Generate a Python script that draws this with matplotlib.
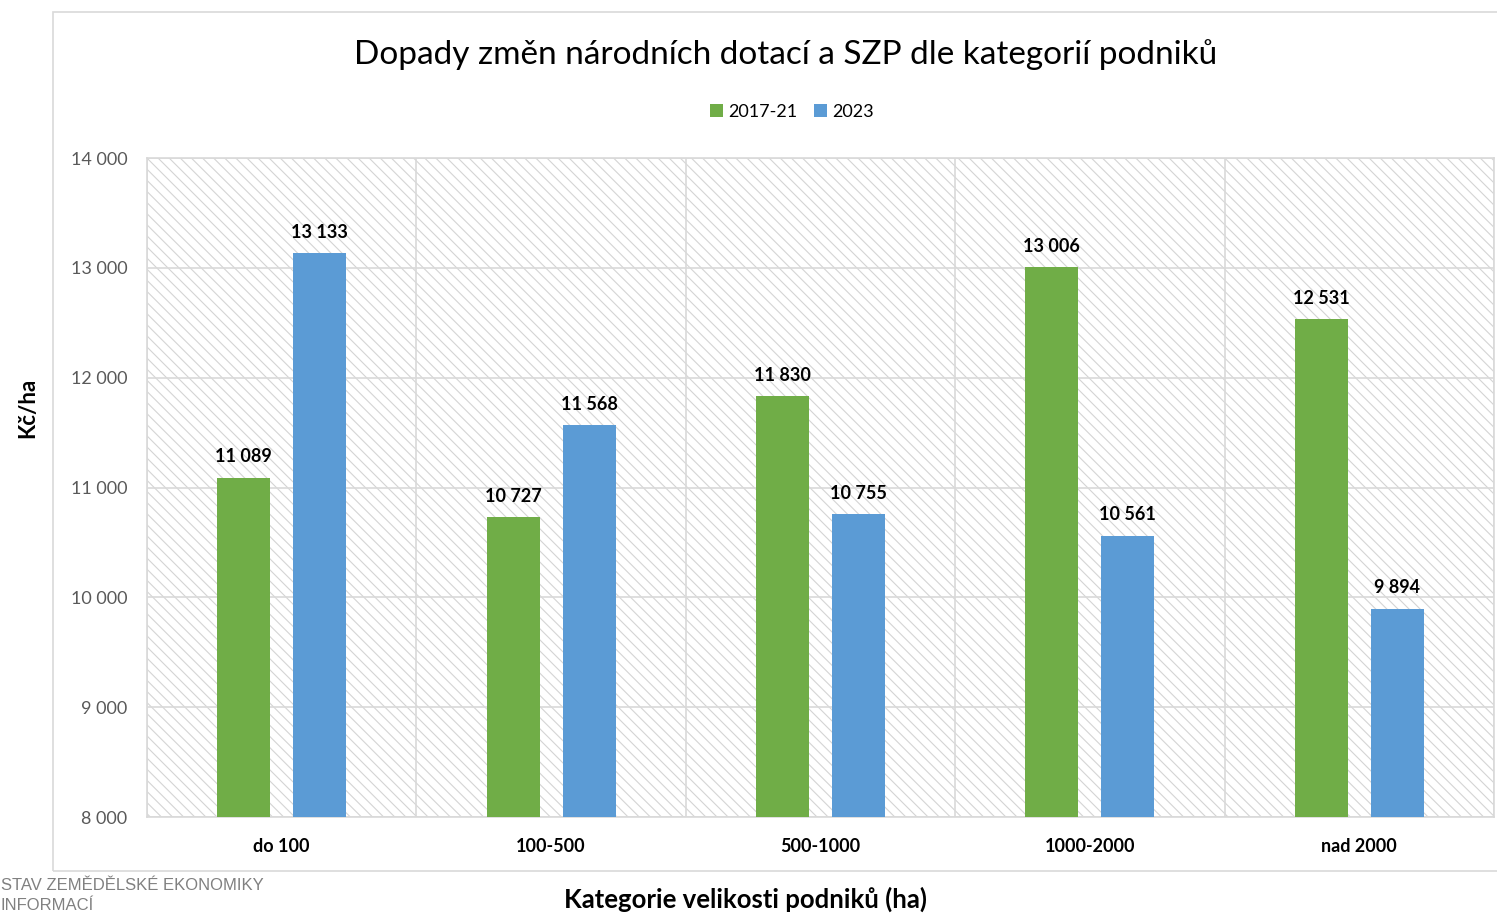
import matplotlib
matplotlib.use("Agg")
import matplotlib.pyplot as plt
import numpy as np
from matplotlib.patches import Rectangle

categories = ["do 100", "100-500", "500-1000", "1000-2000", "nad 2000"]
series_names = ["2017-21", "2023"]
values_2017_21 = [11089, 10727, 11830, 13006, 12531]
values_2023 = [13133, 11568, 10755, 10561, 9894]
yticks = [8000, 9000, 10000, 11000, 12000, 13000, 14000]

GREEN = "#70ad47"
BLUE = "#5b9bd5"
FONT = ["Lato", "DejaVu Sans"]
plt.rcParams['font.family'] = FONT
plt.rcParams['hatch.color'] = "#d4d4d4"
plt.rcParams['hatch.linewidth'] = 0.8

W, H = 1497, 914
fig = plt.figure(figsize=(W / 100, H / 100), dpi=100)

# chart frame
fig.patches.append(Rectangle((53 / W, 1 - 871 / H), 1.2, (871 - 12) / H,
                             transform=fig.transFigure, fill=False,
                             edgecolor="#d9d9d9", linewidth=1.2, zorder=0))

ax = fig.add_axes([147 / W, 1 - 817 / H, (1494 - 147) / W, (817 - 158) / H])
ax.patch.set_facecolor("white")
ax.patch.set_hatch("\\" * 3)
ax.patch.set_edgecolor("#d4d4d4")

x = np.arange(len(categories))
bw = 0.197
off = 0.141
b1 = ax.bar(x - off, values_2017_21, bw, color=GREEN, label=series_names[0], zorder=3)
b2 = ax.bar(x + off, values_2023, bw, color=BLUE, label=series_names[1], zorder=3)

def fmt(v):
    return f"{v:,}".replace(",", " ")

for bars, vals in ((b1, values_2017_21), (b2, values_2023)):
    for rect, v in zip(bars, vals):
        ax.annotate(fmt(v), (rect.get_x() + rect.get_width() / 2, v),
                    xytext=(0, 9), textcoords="offset points",
                    ha="center", va="bottom", fontsize=13, fontweight="bold",
                    color="#000000", zorder=4)

ax.set_xlim(-0.5, len(categories) - 0.5)
ax.set_ylim(8000, 14000)
ax.set_yticks(yticks)
ax.set_yticklabels([fmt(v) for v in yticks], fontsize=13, color="#595959")
ax.set_xticks(x)
ax.set_xticklabels(categories, fontsize=13, fontweight="bold", color="#000000")
ax.set_xticks(np.arange(len(categories) + 1) - 0.5, minor=True)
ax.tick_params(axis="both", which="both", length=0)
ax.tick_params(axis="y", pad=14)
ax.tick_params(axis="x", pad=15)
ax.grid(axis="y", which="major", color="#d9d9d9", linewidth=1.2, zorder=1)
ax.grid(axis="x", which="minor", color="#d9d9d9", linewidth=1.2, zorder=1)
ax.set_axisbelow(True)
for s in ax.spines.values():
    s.set_color("#d9d9d9")
    s.set_linewidth(1.2)

fig.text(786 / W, 1 - 55 / H, "Dopady změn národních dotací a SZP dle kategorií podniků",
         ha="center", va="center", fontsize=24, color="#000000")

ax.legend(loc="center", bbox_to_anchor=(792 / W, 1 - 112 / H),
          bbox_transform=fig.transFigure, ncol=2, frameon=False, fontsize=13,
          handlelength=0.7, handleheight=0.7, handletextpad=0.3, columnspacing=0.9)

fig.text(28 / W, 1 - 408 / H, "Kč/ha", rotation=90, ha="center", va="center",
         fontsize=16, fontweight="bold", color="#000000")
fig.text(746 / W, 1 - 899 / H, "Kategorie velikosti podniků (ha)", ha="center", va="center",
         fontsize=18.5, fontweight="bold", color="#000000")

fig.text(1 / W, 1 - 886 / H, "STAV ZEMĚDĚLSKÉ EKONOMIKY", ha="left", va="center",
         fontsize=12, color="#808080", family=["Liberation Sans", "DejaVu Sans"])
fig.text(1 / W, 1 - 905 / H, "INFORMACÍ", ha="left", va="center",
         fontsize=12, color="#808080", family=["Liberation Sans", "DejaVu Sans"])

fig.savefig("out.png", dpi=100)
